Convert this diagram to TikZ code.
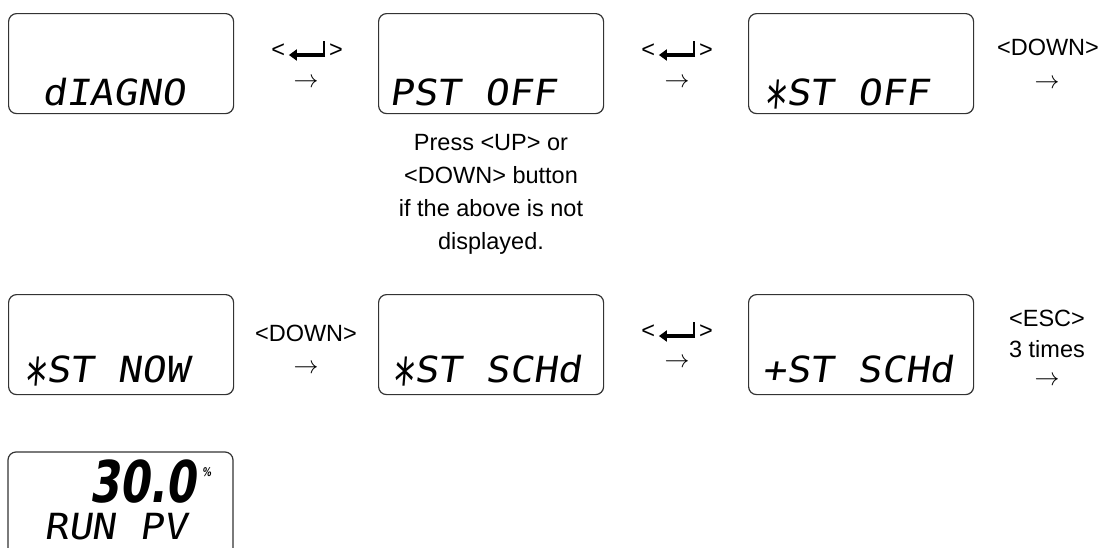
\documentclass[tikz,border=0pt]{standalone}
\usepackage{fontspec}
\usepackage{graphicx}
\setmainfont{Liberation Sans}
\newfontfamily\lcdfam[FakeSlant=0.15,FakeStretch=1.1]{DejaVu Sans Mono}
\newfontfamily\lcdbigfam[FakeSlant=0.15,FakeStretch=0.75]{DejaVu Sans}
\usetikzlibrary{arrows.meta}

\newcommand\lcdfont{\lcdfam\fontsize{36}{36}\selectfont}
\newcommand\lblfont{\fontsize{23.5}{33}\selectfont}
\newcommand\lcdstar{\raisebox{-0.62em}{\scalebox{1}[1.78]{*}}}
\newcommand\enterkey{\tikz[baseline=0pt,x=1pt,y=1pt]{%
  \draw[line width=2.4pt] (35,16) -- (35,1);
  \draw[line width=3.8pt,-{Triangle[length=8pt,width=11pt]}] (36.2,2) -- (0,2);}}

\begin{document}
\begin{tikzpicture}[x=1pt,y=-1pt,
  lcdbox/.style={draw=black!80, line width=1.2pt, rounded corners=8pt,
    minimum width=225pt, minimum height=100pt, inner sep=0pt, anchor=north west},
  lcd/.style={font=\lcdfont, anchor=base west, inner sep=0pt},
  lbl/.style={font=\lblfont, inner sep=0pt, align=center},
  arr/.style={font=\lblfont, inner sep=0pt, anchor=center}]
\useasboundingbox (0,0) rectangle (1101,547);

% row 1 boxes
\node[lcdbox] (b1) at (8,13) {};
\node[lcdbox] (b2) at (378,13) {};
\node[lcdbox] (b3) at (748,13) {};
% row 2 boxes
\node[lcdbox] (b4) at (8,294) {};
\node[lcdbox] (b5) at (378,294) {};
\node[lcdbox] (b6) at (748,294) {};
% last (clipped) box
\draw[draw=black!80, line width=1.2pt, rounded corners=8pt] (8,552) -- (8,452) -- (233,452) -- (233,552);
\coordinate (b7) at (120,452);

% LCD texts
\node[lcd] (t1) at (42,105) {dIAGNO};
\node[lcd] (t2) at (389,105) {PST OFF};
\node[lcd] (t3) at (762,105) {\lcdstar ST OFF};
\node[lcd] (t4) at (22,382) {\lcdstar ST NOW};
\node[lcd] (t5) at (390,382) {\lcdstar ST SCHd};
\node[lcd] (t6) at (762,382) {+ST SCHd};
\node[font=\lcdbigfam\bfseries\fontsize{57.6}{58}\selectfont, anchor=base west, inner sep=0pt] (pv) at (89,502) {30.0};
\node[font=\lcdbigfam\bfseries\fontsize{12}{12}\selectfont, anchor=base west, inner sep=0pt] (pct) at (202,476) {\%};
\node[lcd] (t7) at (44,539) {RUN PV};

% key labels row 1
\node[lbl, anchor=base] (k1) at (307,57) {<\hspace{2pt}\enterkey\hspace{2pt}>};
\node[arr] (a1) at (306,83) {$\rightarrow$};
\node[lbl, anchor=base] (k2) at (677,57) {<\hspace{2pt}\enterkey\hspace{2pt}>};
\node[arr] (a2) at (677,83) {$\rightarrow$};
\node[lbl, anchor=base] (k3) at (1048,55.5) {<DOWN>};
\node[arr] (a3) at (1047,84) {$\rightarrow$};

% note
\node[lbl, anchor=north] (note) at (491,134.5) {Press <UP> or\\<DOWN> button\\if the above is not\\displayed.};

% key labels row 2
\node[lbl, anchor=base] (k4) at (306,341.5) {<DOWN>};
\node[arr] (a4) at (306,369) {$\rightarrow$};
\node[lbl, anchor=base] (k5) at (677,338) {<\hspace{2pt}\enterkey\hspace{2pt}>};
\node[arr] (a5) at (677,363) {$\rightarrow$};
\node[lbl, anchor=base] (k6) at (1047,326.5) {<ESC>};
\node[lbl, anchor=base] (k6b) at (1047,357) {3 times};
\node[arr] (a6) at (1047,381) {$\rightarrow$};
\end{tikzpicture}
\end{document}
